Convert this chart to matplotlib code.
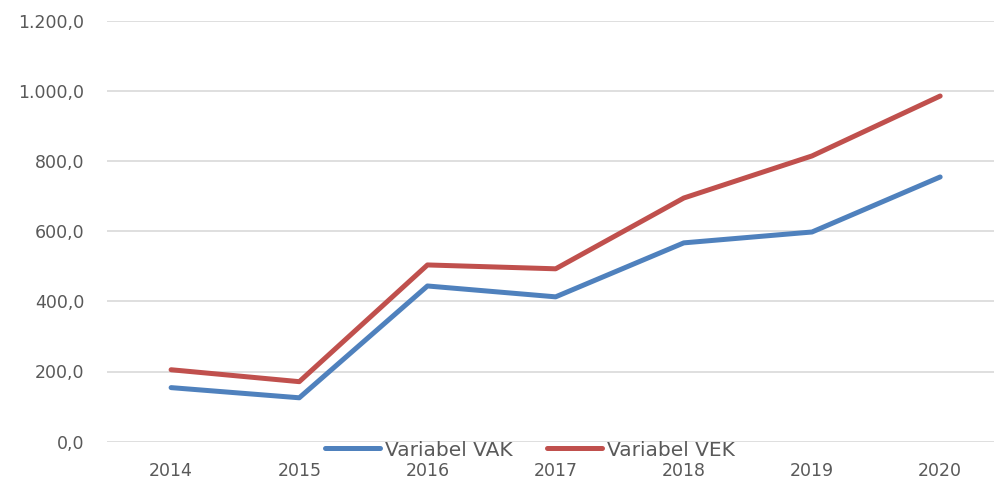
import matplotlib.pyplot as plt
from matplotlib.ticker import FuncFormatter

years = ["2014", "2015", "2016", "2017", "2018", "2019", "2020"]
vak = [154, 125, 444, 413, 567, 598, 755]
vek = [205, 171, 504, 493, 695, 815, 986]

BLUE = "#4F81BD"
RED = "#C0504D"
TEXT = "#595959"

plt.rcParams["font.family"] = ["DejaVu Sans"]

fig = plt.figure(figsize=(9.94, 4.84), dpi=100)
ax = fig.add_axes([107 / 994, 42.4 / 484, 887 / 994, 420.6 / 484])

x = list(range(len(years)))
ax.plot(x, vak, color=BLUE, lw=3.6, solid_capstyle="round", solid_joinstyle="round", label="Variabel VAK")
ax.plot(x, vek, color=RED, lw=3.6, solid_capstyle="round", solid_joinstyle="round", label="Variabel VEK")

ax.set_ylim(0, 1200)
ax.set_xlim(-0.5, 6.42)
ax.set_yticks(range(0, 1201, 200))
ax.set_xticks(x)
ax.set_xticklabels(years)


def fmt(v, pos):
    s = f"{v:,.1f}"
    return s.replace(",", "X").replace(".", ",").replace("X", ".")


ax.yaxis.set_major_formatter(FuncFormatter(fmt))
ax.grid(axis="y", color="#D9D9D9", lw=1.2)
ax.set_axisbelow(True)
for s in ax.spines.values():
    s.set_visible(False)
ax.tick_params(length=0, labelsize=12.5, labelcolor=TEXT)
ax.tick_params(axis="y", pad=16.5)
ax.tick_params(axis="x", pad=15)

leg = fig.legend(loc="center", bbox_to_anchor=(530 / 994, 1 - 450 / 484), ncol=2, frameon=False,
                 fontsize=14.5, handlelength=2.75, handletextpad=0.25, columnspacing=1.7,
                 borderpad=0, labelcolor=TEXT)

fig.savefig("out.png", dpi=100)
